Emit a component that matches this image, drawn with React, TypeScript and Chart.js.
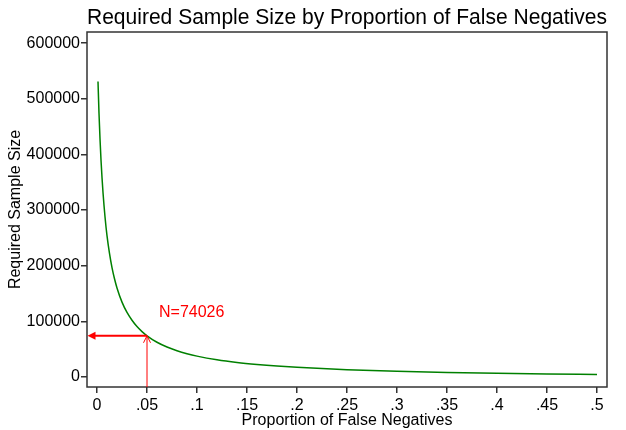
import React, { useEffect, useRef } from 'react';
import { Chart, registerables } from 'chart.js';

Chart.register(...registerables);

const FONT = "'Liberation Sans', Arial, sans-serif";

const chartTitle = 'Required Sample Size by Proportion of False Negatives';
const xAxisTitle = 'Proportion of False Negatives';
const yAxisTitle = 'Required Sample Size';

const proportions = [
  0.001, 0.002, 0.003, 0.004, 0.005, 0.006, 0.008, 0.01, 0.0125, 0.015, 0.0175, 0.02,
  0.025, 0.03, 0.035, 0.04, 0.045, 0.05, 0.06, 0.07, 0.08, 0.09, 0.1, 0.12, 0.14, 0.16,
  0.18, 0.2, 0.25, 0.3, 0.35, 0.4, 0.45, 0.5,
];
const sampleSizes = [
  531000, 474000, 428000, 390000, 358500, 331500, 288000, 254000, 222000, 196500, 176500, 160000,
  134500, 116000, 102000, 90600, 81500, 74026, 62400, 53800, 47100, 41800, 37500, 30900, 26100, 22500,
  19600, 17300, 13000, 10200, 8140, 6590, 5380, 4410,
];

const xTickValues = [0, 0.05, 0.1, 0.15, 0.2, 0.25, 0.3, 0.35, 0.4, 0.45, 0.5];
const xTickLabels = ['0', '.05', '.1', '.15', '.2', '.25', '.3', '.35', '.4', '.45', '.5'];
const yTickValues = [0, 100000, 200000, 300000, 400000, 500000, 600000];
const yTickLabels = ['0', '100000', '200000', '300000', '400000', '500000', '600000'];

const xRange = [-0.01, 0.51];
const yRange = [-18000, 620000];

const markerProportion = 0.05;
const markerSampleSize = 74026;
const markerLabel = 'N=74026';
const markerLabelProportion = 0.062;
const markerLabelSampleSize = 107000;

const framePlugin = {
  id: 'frameAndMarker',
  afterDatasetsDraw(chart: any) {
    const { ctx, chartArea } = chart;
    const xs = chart.scales.x;
    const ys = chart.scales.y;
    ctx.save();
    ctx.strokeStyle = '#333';
    ctx.lineWidth = 1.5;
    ctx.strokeRect(chartArea.left, chartArea.top, chartArea.right - chartArea.left, chartArea.bottom - chartArea.top);

    const px = xs.getPixelForValue(markerProportion);
    const py = ys.getPixelForValue(markerSampleSize);
    const left = chartArea.left;
    const bottom = chartArea.bottom;

    ctx.strokeStyle = '#ff0000';
    ctx.fillStyle = '#ff0000';
    ctx.lineWidth = 2;
    ctx.beginPath();
    ctx.moveTo(px, py);
    ctx.lineTo(left + 6, py);
    ctx.stroke();
    ctx.beginPath();
    ctx.moveTo(left + 0.5, py);
    ctx.lineTo(left + 8.5, py - 4);
    ctx.lineTo(left + 8.5, py + 4);
    ctx.closePath();
    ctx.fill();
    ctx.lineWidth = 1;
    ctx.beginPath();
    ctx.moveTo(px, bottom);
    ctx.lineTo(px, py);
    ctx.stroke();
    ctx.beginPath();
    ctx.moveTo(px - 3.5, py + 7);
    ctx.lineTo(px, py);
    ctx.lineTo(px + 3.5, py + 7);
    ctx.stroke();
    ctx.font = `16px ${FONT}`;
    ctx.textAlign = 'left';
    ctx.textBaseline = 'alphabetic';
    ctx.fillText(markerLabel, xs.getPixelForValue(markerLabelProportion), ys.getPixelForValue(markerLabelSampleSize));
    ctx.restore();
  },
};

export default function App() {
  const ref = useRef<HTMLCanvasElement>(null);
  useEffect(() => {
    const chart = new Chart(ref.current as HTMLCanvasElement, {
      type: 'line',
      data: {
        datasets: [
          {
            data: proportions.map((p, i) => ({ x: p, y: sampleSizes[i] })),
            borderColor: '#008000',
            borderWidth: 1.5,
            pointRadius: 0,
            fill: false,
            cubicInterpolationMode: 'monotone',
          },
        ],
      },
      options: {
        animation: false,
        responsive: false,
        maintainAspectRatio: false,
        devicePixelRatio: 1,
        layout: { padding: { top: 0, right: 19, bottom: 0, left: 0 } },
        plugins: {
          legend: { display: false },
          tooltip: { enabled: false },
          title: {
            display: true,
            text: chartTitle,
            fullSize: false,
            color: '#000',
            font: { family: FONT, size: 22, weight: 'normal' },
            padding: { top: 4.3, bottom: 1.3 },
          },
        },
        scales: {
          x: {
            type: 'linear',
            min: xRange[0],
            max: xRange[1],
            afterBuildTicks: (s: any) => {
              s.ticks = xTickValues.map((value) => ({ value }));
            },
            afterFit: (s: any) => {
              s.height = 43;
            },
            ticks: {
              callback: (_v: any, i: number) => xTickLabels[i],
              color: '#000',
              font: { family: FONT, size: 16 },
              padding: 3,
              maxRotation: 0,
              autoSkip: false,
            },
            grid: { display: true, drawOnChartArea: false, drawTicks: true, tickLength: 6, color: '#333', lineWidth: 1.5 },
            border: { display: false },
            title: {
              display: true,
              text: xAxisTitle,
              color: '#000',
              font: { family: FONT, size: 16 },
              padding: { top: 0, bottom: 0 },
            },
          },
          y: {
            type: 'linear',
            min: yRange[0],
            max: yRange[1],
            afterBuildTicks: (s: any) => {
              s.ticks = yTickValues.map((value) => ({ value }));
            },
            afterFit: (s: any) => {
              s.width = 87;
            },
            ticks: {
              callback: (_v: any, i: number) => yTickLabels[i],
              color: '#000',
              font: { family: FONT, size: 16 },
              padding: 1,
              autoSkip: false,
            },
            grid: { display: true, drawOnChartArea: false, drawTicks: true, tickLength: 6, color: '#333', lineWidth: 1.5 },
            border: { display: false },
            title: {
              display: true,
              text: yAxisTitle,
              color: '#000',
              font: { family: FONT, size: 16 },
              padding: { top: 6.4, bottom: 0 },
            },
          },
        },
      },
      plugins: [framePlugin],
    } as any);
    return () => chart.destroy();
  }, []);
  return (
    <div style={{ position: 'fixed', left: 0, top: 0, width: 626, height: 430, background: '#fff' }}>
      <canvas ref={ref} width={626} height={430} style={{ width: 626, height: 430, display: 'block' }} />
    </div>
  );
}
